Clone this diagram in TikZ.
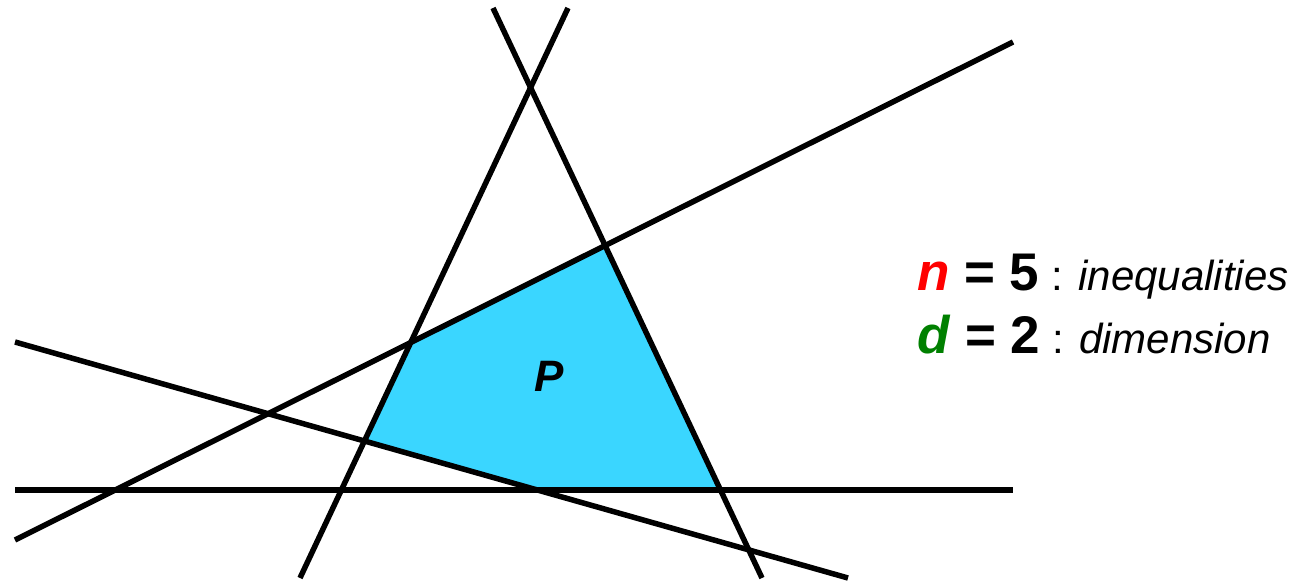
\documentclass[tikz,border=0pt]{standalone}
\usepackage{fontspec}
\setmainfont{Liberation Sans}
\usetikzlibrary{calc}
\definecolor{poly}{HTML}{3AD6FF}
\definecolor{nred}{HTML}{FF0000}
\definecolor{dgreen}{HTML}{008000}
\tikzset{
  hyp/.style={line width=5.5pt,draw=black},
  region/.style={fill=poly,draw=none},
  lbl/.style={anchor=base west,inner sep=0pt,font=\fontsize{53}{58}\selectfont},
}
\newcommand{\sm}[1]{{\fontsize{42}{48}\selectfont #1}}

\begin{document}
\begin{tikzpicture}[x=1pt,y=-1pt]
\useasboundingbox (0,0) rectangle (1310,583);
% the five half-planes
\coordinate (a1) at (493,8);  \coordinate (a2) at (762,578);
\coordinate (b1) at (568,8);  \coordinate (b2) at (300,578);
\coordinate (c1) at (15,540); \coordinate (c2) at (1013,42);
\coordinate (e1) at (15,342); \coordinate (e2) at (848,578);
\coordinate (f1) at (15,490); \coordinate (f2) at (1013,490);
% corners of P
\coordinate (p1) at (intersection of b1--b2 and c1--c2);
\coordinate (p2) at (intersection of a1--a2 and c1--c2);
\coordinate (p3) at (intersection of a1--a2 and f1--f2);
\coordinate (p4) at (intersection of e1--e2 and f1--f2);
\coordinate (p5) at (intersection of b1--b2 and e1--e2);
\fill[region] (p1) -- (p2) -- (p3) -- (p4) -- (p5) -- cycle;
\node[font=\fontsize{44}{50}\selectfont\bfseries\itshape] (lp) at (549,376) {P};
\draw[hyp] (a1) -- (a2);
\draw[hyp] (b1) -- (b2);
\draw[hyp] (c1) -- (c2);
\draw[hyp] (e1) -- (e2);
\draw[hyp] (f1) -- (f2);
% legend
\node[lbl] (n) at (917,290) {\textcolor{nred}{\textbf{\textit{n}}} \textbf{= 5}\sm{ : \textit{inequalities}}};
\node[lbl] (d) at (917,353) {\textcolor{dgreen}{\textbf{\textit{d}}} \textbf{= 2}\sm{ : \textit{dimension}}};
\end{tikzpicture}
\end{document}
